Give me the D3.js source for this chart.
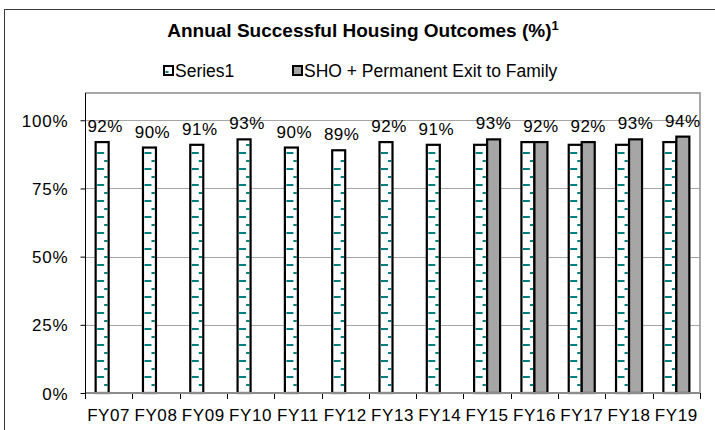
<!DOCTYPE html>
<html>
<head>
<meta charset="utf-8">
<script src="https://cdn.jsdelivr.net/npm/d3@7"></script>
<style>
  body { margin: 0; background: #fff; }
  text { font-family: "Liberation Sans", Arial, sans-serif; fill: #000; }
</style>
</head>
<body>
<div id="chart"></div>
<script>
const categories = ['FY07', 'FY08', 'FY09', 'FY10', 'FY11', 'FY12', 'FY13',
  'FY14', 'FY15', 'FY16', 'FY17', 'FY18', 'FY19'];
const series1 = [92, 90, 91, 93, 90, 89, 92, 91, 91, 92, 91, 91, 92];
const shoFamily = [null, null, null, null, null, null, null, null, 93, 92, 92, 93, 94];
const seriesNames = ['Series1', 'SHO + Permanent Exit to Family'];
const yTicks = [0, 25, 50, 75, 100];

const width = 715;
const height = 430;
const plot = { left: 85, right: 700, top: 93, bottom: 393 };
const barWidth = 13;
const teal = '#008080';

const svg = d3.select('#chart').append('svg')
  .attr('width', width)
  .attr('height', height);

// outer chart frame (runs off the right / bottom edge like the original)
svg.append('rect')
  .attr('x', 4.5).attr('y', 9.5)
  .attr('width', 730).attr('height', 440)
  .attr('fill', 'none')
  .attr('stroke', '#3a3a3a');

const x = d3.scaleBand()
  .domain(categories)
  .range([plot.left, plot.right]);

const x1 = d3.scaleBand()
  .domain(['s1', 's2'])
  .range([x.bandwidth() / 2 - barWidth, x.bandwidth() / 2 + barWidth]);

const y = d3.scaleLinear()
  .domain([0, 110])
  .range([plot.bottom, plot.top]);

// gridlines
svg.append('g')
  .selectAll('line')
  .data(yTicks.filter(t => t > 0))
  .join('line')
  .attr('x1', plot.left).attr('x2', plot.right)
  .attr('y1', d => Math.round(y(d)) + 0.5)
  .attr('y2', d => Math.round(y(d)) + 0.5)
  .attr('stroke', '#a6a6a6');

// plot area border top/right
svg.append('path')
  .attr('d', `M${plot.left},${plot.top}H${plot.right}V${plot.bottom}`)
  .attr('fill', 'none')
  .attr('stroke', '#8c8c8c')
  .attr('stroke-width', 1.5);

// y axis
const yAxis = svg.append('g')
  .attr('transform', `translate(${plot.left + 0.5},0)`)
  .call(d3.axisLeft(y).tickValues(yTicks).tickSize(5).tickFormat(d => d + '%'));
yAxis.select('.domain').attr('stroke', '#000').attr('d', `M0,${plot.top}V${plot.bottom}`);
yAxis.selectAll('.tick line').attr('stroke', '#000');
yAxis.selectAll('.tick text')
  .attr('x', -17)
  .attr('dy', '0.36em')
  .style('font-size', '17px')
  .style('letter-spacing', '0.8px')
  .style('font-family', '"Liberation Sans", Arial, sans-serif')
  .attr('fill', '#000');

// x axis
const xAxis = svg.append('g')
  .attr('transform', `translate(0,${plot.bottom})`)
  .call(d3.axisBottom(x).tickSize(0).tickPadding(16));
xAxis.select('.domain').remove();
xAxis.selectAll('.tick text')
  .style('font-size', '17px')
  .style('letter-spacing', '0.6px')
  .style('font-family', '"Liberation Sans", Arial, sans-serif')
  .attr('fill', '#000');

svg.append('g')
  .selectAll('line')
  .data(categories.concat(['end']))
  .join('line')
  .attr('x1', (d, i) => Math.round(plot.left + i * x.step()) + 0.5)
  .attr('x2', (d, i) => Math.round(plot.left + i * x.step()) + 0.5)
  .attr('y1', plot.bottom)
  .attr('y2', plot.bottom + 6)
  .attr('stroke', '#000');

// bars
const groups = svg.append('g')
  .selectAll('g')
  .data(categories.map((c, i) => ({ cat: c, s1: series1[i], s2: shoFamily[i] })))
  .join('g')
  .attr('transform', d => `translate(${x(d.cat)},0)`);

groups.append('rect')
  .attr('x', x1('s1'))
  .attr('y', d => y(d.s1))
  .attr('width', barWidth)
  .attr('height', d => y(0) - y(d.s1))
  .attr('fill', '#fff');

// dashed horizontal fill of Series1
groups.each(function (d) {
  const top = y(d.s1);
  const bx = x1('s1');
  const dashes = [];
  for (let k = 0; plot.bottom - 8 * k > top + 3; k += 1) {
    const yy = plot.bottom - 8 * k;
    if (k % 2 === 0) dashes.push({ x1: bx + 1.5, x2: bx + 8.5, y: yy });
    else dashes.push({ x1: bx + 8.5, x2: bx + 11.8, y: yy });
  }
  d3.select(this).selectAll('line.dash')
    .data(dashes)
    .join('line')
    .attr('class', 'dash')
    .attr('x1', e => e.x1).attr('x2', e => e.x2)
    .attr('y1', e => e.y).attr('y2', e => e.y)
    .attr('stroke', teal)
    .attr('stroke-width', 2);
});

groups.append('rect')
  .attr('x', x1('s1'))
  .attr('y', d => y(d.s1))
  .attr('width', barWidth)
  .attr('height', d => y(0) - y(d.s1))
  .attr('fill', 'none')
  .attr('stroke', '#000')
  .attr('stroke-width', 2.2);

groups.filter(d => d.s2 !== null)
  .append('rect')
  .attr('x', x1('s2'))
  .attr('y', d => y(d.s2))
  .attr('width', barWidth)
  .attr('height', d => y(0) - y(d.s2))
  .attr('fill', '#a6a6a6')
  .attr('stroke', '#000')
  .attr('stroke-width', 2.2);

// x axis line drawn over bar bottoms
svg.append('line')
  .attr('x1', plot.left).attr('x2', plot.right)
  .attr('y1', plot.bottom).attr('y2', plot.bottom)
  .attr('stroke', '#8c8c8c')
  .attr('stroke-width', 2);
svg.append('line')
  .attr('x1', plot.left + 0.5).attr('x2', plot.left + 0.5)
  .attr('y1', plot.top).attr('y2', plot.bottom + 1)
  .attr('stroke', '#000');

// data labels: Series1 where no SHO value, otherwise SHO value
groups.append('text')
  .attr('text-anchor', 'middle')
  .attr('x', d => (d.s2 === null ? x1('s1') + barWidth / 2 + 3 : x1('s2') + barWidth / 2))
  .attr('y', d => y(d.s2 === null ? d.s1 : d.s2) - 10)
  .style('font-size', '17px')
  .style('letter-spacing', '0.5px')
  .text(d => (d.s2 === null ? d.s1 : d.s2) + '%');

// title
const title = svg.append('text')
  .attr('x', 363)
  .attr('y', 37)
  .attr('text-anchor', 'middle')
  .style('font-size', '19px')
  .style('font-weight', 'bold');
title.append('tspan').text('Annual Successful Housing Outcomes (%)');
title.append('tspan').attr('dy', -7).style('font-size', '13px').text('1');

// legend
const legend = svg.append('g').attr('transform', 'translate(0,77)');
const legendX = [163, 292];
seriesNames.forEach((name, i) => {
  const g = legend.append('g').attr('transform', `translate(${legendX[i]},0)`);
  g.append('rect')
    .attr('x', 1).attr('y', -11)
    .attr('width', 9).attr('height', 9)
    .attr('fill', i === 0 ? '#fff' : '#a6a6a6')
    .attr('stroke', '#000')
    .attr('stroke-width', 2);
  if (i === 0) {
    g.append('line')
      .attr('x1', 2.5).attr('x2', 5.5)
      .attr('y1', -5).attr('y2', -5)
      .attr('stroke', teal).attr('stroke-width', 2);
  }
  g.append('text')
    .attr('x', 12)
    .attr('y', 0)
    .style('font-size', '17.5px')
    .text(name);
});
</script>
</body>
</html>
